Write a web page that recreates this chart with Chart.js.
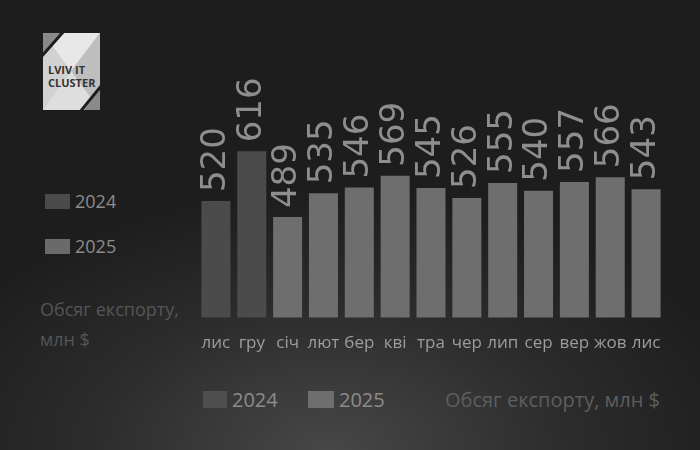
<!DOCTYPE html>
<html>
<head>
<meta charset="utf-8">
<script src="https://cdn.jsdelivr.net/npm/chart.js@4"></script>
<style>
  html, body { margin: 0; padding: 0; }
  body {
    width: 700px; height: 450px; overflow: hidden; position: relative;
    background: radial-gradient(ellipse 62% 58% at 47% 100%, #474747 0%, #2c2c2c 55%, #1d1d1d 100%);
    font-family: "Open Sans", sans-serif;
  }
  #wrap { position: absolute; left: 0; top: 0; width: 700px; height: 450px; }
  .leg { position: absolute; display: flex; align-items: center; color: #8c8c8c; }
  .box { display: inline-block; margin-right: 5px; }
  .note { position: absolute; color: #555; }
  #logo { position: absolute; left: 43px; top: 33px; width: 57px; height: 77px; }
</style>
</head>
<body>
<svg id="logo" viewBox="0 0 57 77">
  <rect x="0" y="0" width="57" height="77" fill="#d2d2d2"/>
  <polygon points="0,0 57,0 28,38" fill="#e8e8e8"/>
  <polygon points="0,77 57,77 28,38" fill="#dedede"/>
  <polygon points="57,0 57,77 28,38" fill="#bebebe"/>
  <polygon points="0,0 18,0 0,20" fill="#8a8a8a"/>
  <polygon points="57,77 41,77 57,56" fill="#8a8a8a"/>
  <line x1="21" y1="-2" x2="-2" y2="24" stroke="#1d1d1d" stroke-width="3"/>
  <line x1="37" y1="79" x2="59" y2="52" stroke="#1d1d1d" stroke-width="3"/>
  <text x="5" y="41" font-family="Open Sans" font-weight="bold" font-size="11" fill="#333">LVIV IT</text>
  <text x="5" y="54" font-family="Open Sans" font-weight="bold" font-size="11" fill="#333">CLUSTER</text>
</svg>

<div class="leg" style="left:45px;top:189px;font-size:18px;"><span class="box" style="width:25px;height:15px;background:#4a4a4a"></span>2024</div>
<div class="leg" style="left:45px;top:234px;font-size:18px;"><span class="box" style="width:25px;height:15px;background:#6a6a6a"></span>2025</div>
<div class="note" style="left:40px;top:294px;font-size:18px;line-height:30px;">Обсяг експорту,<br>млн $</div>

<div class="leg" style="left:203px;top:386px;font-size:20px;"><span class="box" style="width:24px;height:17px;background:#4e4e4e"></span>2024</div>
<div class="leg" style="left:308px;top:386px;font-size:20px;"><span class="box" style="width:26px;height:17px;background:#6e6e6e"></span>2025</div>
<div class="note" style="left:445px;top:386px;font-size:20px;color:#5e5e5e;">Обсяг експорту, млн $</div>

<div id="wrap"><canvas id="chart"></canvas></div>

<script>
// months (Nov 2024 .. Nov 2025)
const months = ['лис', 'гру', 'січ', 'лют', 'бер', 'кві', 'тра', 'чер', 'лип', 'сер', 'вер', 'жов', 'лис'];
const export2024 = [520, 616, null, null, null, null, null, null, null, null, null, null, null];
const export2025 = [null, null, 489, 535, 546, 569, 545, 526, 555, 540, 557, 566, 543];

// draw the rotated value labels above every bar
const valueLabels = {
    id: 'valueLabels',
    afterDatasetsDraw(chart) {
        const ctx = chart.ctx;
        ctx.save();
        ctx.font = '34px "DejaVu Sans"';
        ctx.fillStyle = '#8e8e8e';
        ctx.textAlign = 'left';
        ctx.textBaseline = 'middle';
        chart.data.datasets.forEach((ds, i) => {
            chart.getDatasetMeta(i).data.forEach((bar, j) => {
                if (ds.data[j] == null) return;
                ctx.save();
                ctx.translate(bar.x, bar.y - 9);
                ctx.rotate(-Math.PI / 2);
                ctx.fillText(String(ds.data[j]), 0, 0);
                ctx.restore();
            });
        });
        ctx.restore();
    }
};

new Chart(document.getElementById('chart'), {
    type: 'bar',
    data: {
        labels: months,
        datasets: [
            { label: '2024', data: export2024, backgroundColor: '#4b4b4b' },
            { label: '2025', data: export2025, backgroundColor: '#6e6e6e' }
        ]
    },
    options: {
        responsive: true,
        maintainAspectRatio: false,
        animation: false,
        grouped: false,
        barPercentage: 0.81,
        categoryPercentage: 1,
        layout: { padding: { left: 198, right: 36, top: 56, bottom: 90 } },
        plugins: { legend: { display: false }, tooltip: { enabled: false } },
        scales: {
            x: {
                grid: { display: false },
                border: { display: false },
                ticks: {
                    color: '#9c9c9c',
                    font: { family: 'Open Sans', size: 17 },
                    padding: 7,
                    autoSkip: false,
                    maxRotation: 0,
                    minRotation: 0
                }
            },
            y: { display: false, min: 295, max: 800 }
        }
    },
    plugins: [valueLabels]
});
</script>
</body>
</html>
